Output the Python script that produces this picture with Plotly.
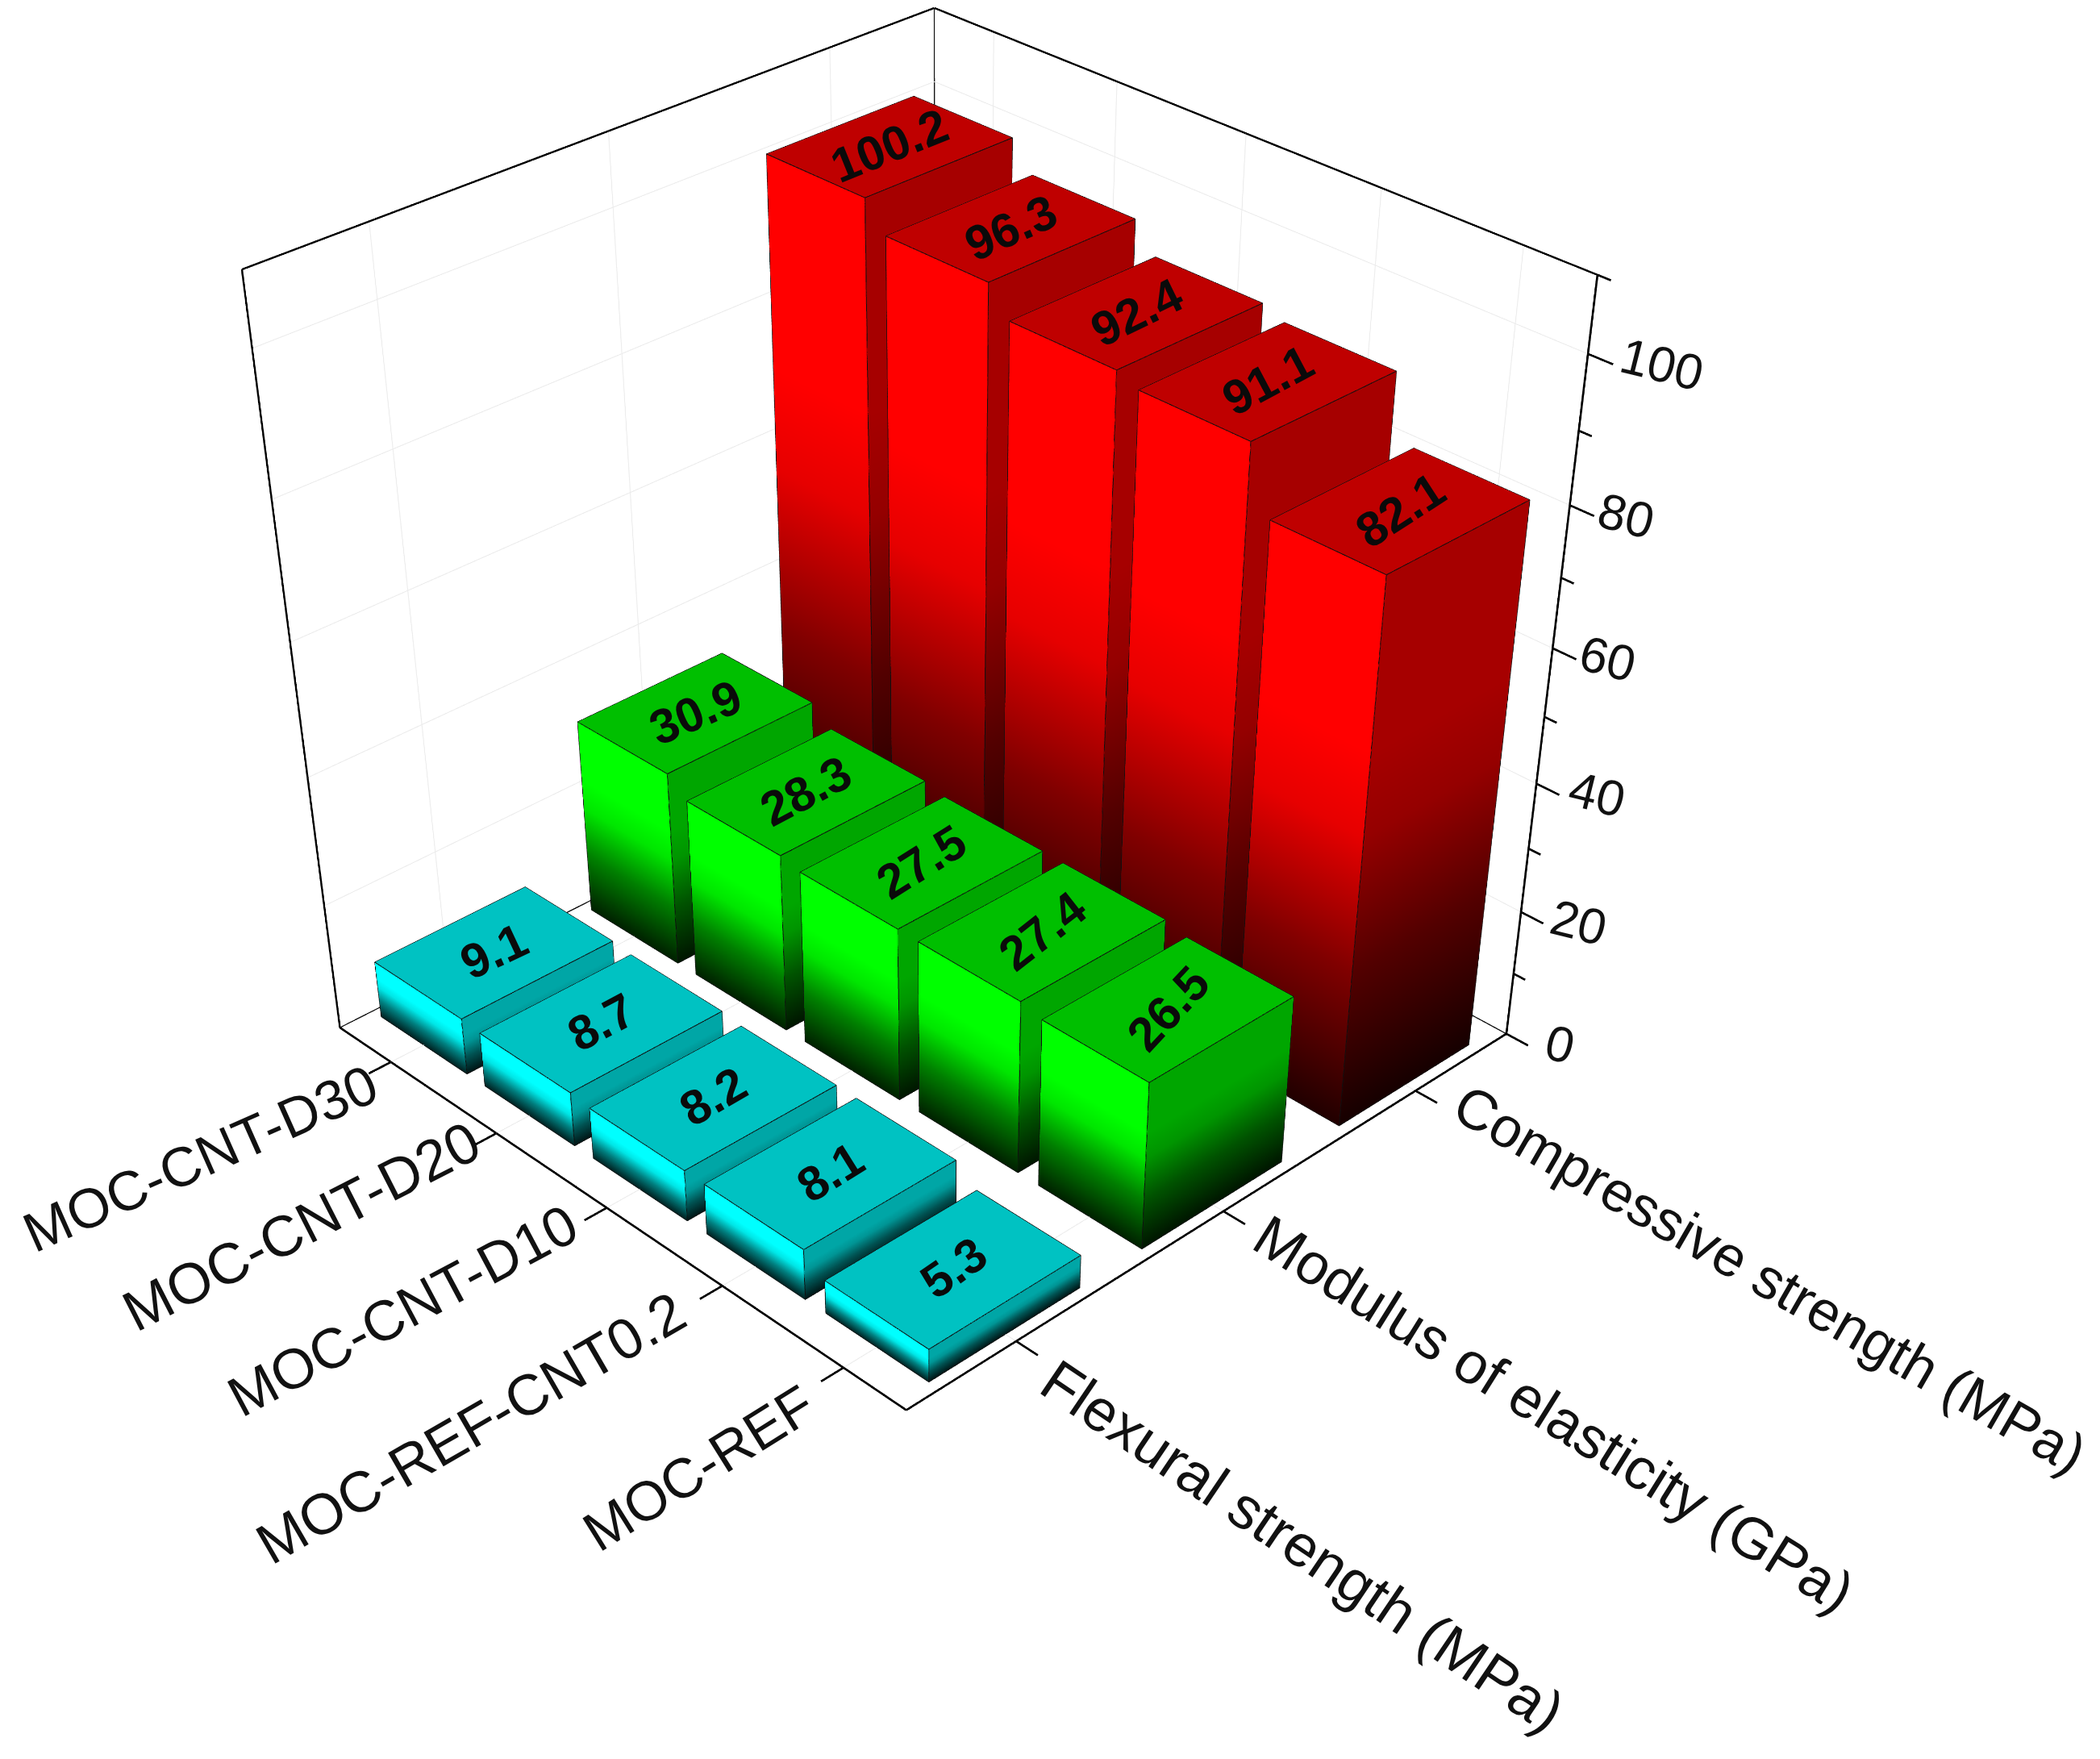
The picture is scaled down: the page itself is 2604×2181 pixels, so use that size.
import plotly.graph_objects as go

categories = ["MOC-CNT-D30", "MOC-CNT-D20", "MOC-CNT-D10", "MOC-REF-CNT0.2", "MOC-REF"]
series = ["Flexural strength (MPa)", "Modulus of elasticity (GPa)", "Compressive strength (MPa)"]
flexural = [9.1, 8.7, 8.2, 8.1, 5.3]
modulus = [30.9, 28.3, 27.5, 27.4, 26.5]
compressive = [100.2, 96.3, 92.4, 91.1, 82.1]
z_ticks = [0, 20, 40, 60, 80, 100]
z_minor = [10, 30, 50, 70, 90, 110]

X0, X1, Y0, Y1, Z0, Z1 = -0.5, 4.5, -0.5, 2.5, 0, 110
# taller than the window: plotly's fov is fixed, so this is what weakens the perspective
W, H = 2596, 4000
PX = 1172
EYE = (2.9586, -2.8317, 2.3670)
CENTER = (0.4430, -0.3900, -0.9706)
BOX = (1.0410, 1.0531, 1.0)
PAD_X, PAD_Y, PAD_Z = 1.4, 5/3, 1.4

fig = go.Figure()


def shade(rgb, k):
    return "rgb(%d,%d,%d)" % tuple(int(round(c*k)) for c in rgb)


stops = [(0, 0.13), (0.3, 0.5), (0.55, 0.9), (0.7, 1.0), (1, 1.0)]


def add_bars(vals, yi, rgb, top_k, right_k):
    vx, vy, vz, vc, ii, jj, kk = [], [], [], [], [], [], []
    ex, ey, ez = [], [], []

    def quad(a, b, c, d, ca, cb, cc, cd):
        n = len(vx)
        for q, col in zip((a, b, c, d), (ca, cb, cc, cd)):
            vx.append(q[0]); vy.append(q[1]); vz.append(q[2]); vc.append(col)
        ii.extend([n, n]); jj.extend([n+1, n+2]); kk.extend([n+2, n+3])

    bw_x, bw_y = 0.83, 0.70
    for xi, v in enumerate(vals):
        x0, x1 = xi-bw_x/2, xi+bw_x/2
        y0, y1 = yi-bw_y/2, yi+bw_y/2
        quad((x0, y0, v), (x1, y0, v), (x1, y1, v), (x0, y1, v), *[shade(rgb, top_k)]*4)
        for (t0, k0), (t1, k1) in zip(stops[:-1], stops[1:]):
            quad((x0, y0, t0*v), (x1, y0, t0*v), (x1, y0, t1*v), (x0, y0, t1*v),
                 shade(rgb, k0), shade(rgb, k0), shade(rgb, k1), shade(rgb, k1))
            quad((x1, y0, t0*v), (x1, y1, t0*v), (x1, y1, t1*v), (x1, y0, t1*v),
                 shade(rgb, k0*right_k), shade(rgb, k0*right_k), shade(rgb, k1*right_k), shade(rgb, k1*right_k))
        path = [(x0, y0, v), (x1, y0, v), (x1, y1, v), (x0, y1, v), (x0, y0, v), (x0, y0, 0), (x1, y0, 0), (x1, y1, 0), (x1, y1, v)]
        for q in path:
            ex.append(q[0]); ey.append(q[1]); ez.append(q[2])
        ex.append(None); ey.append(None); ez.append(None)
        for q in [(x1, y0, v), (x1, y0, 0)]:
            ex.append(q[0]); ey.append(q[1]); ez.append(q[2])
        ex.append(None); ey.append(None); ez.append(None)
    fig.add_trace(go.Mesh3d(x=vx, y=vy, z=vz, i=ii, j=jj, k=kk, vertexcolor=vc, flatshading=True,
                            lighting=dict(ambient=1, diffuse=0, specular=0, roughness=1, fresnel=0),
                            hoverinfo="skip", showscale=False))
    fig.add_trace(go.Scatter3d(x=ex, y=ey, z=ez, mode="lines", line=dict(color="#101010", width=2),
                               hoverinfo="skip", showlegend=False))


add_bars(flexural, 0, (0, 255, 255), 0.76, 0.65)
add_bars(modulus, 1, (0, 255, 0), 0.75, 0.65)
add_bars(compressive, 2, (255, 0, 0), 0.75, 0.65)


def lines(segs, color, width):
    xs, ys, zs = [], [], []
    for a, b in segs:
        xs += [a[0], b[0], None]; ys += [a[1], b[1], None]; zs += [a[2], b[2], None]
    fig.add_trace(go.Scatter3d(x=xs, y=ys, z=zs, mode="lines", line=dict(color=color, width=width),
                               hoverinfo="skip", showlegend=False))


# grid on walls and floor
grid = []
for x in range(len(categories)):
    grid += [((x, Y0, Z0), (x, Y1, Z0)), ((x, Y1, Z0), (x, Y1, Z1))]
for y in range(len(series)):
    grid += [((X0, y, Z0), (X1, y, Z0)), ((X0, y, Z0), (X0, y, Z1))]
for z in z_ticks[1:]:
    grid += [((X0, Y0, z), (X0, Y1, z)), ((X0, Y1, z), (X1, Y1, z))]
lines(grid, "#ececec", 2)

# frame
lines([((X0, Y0, Z0), (X0, Y1, Z0)), ((X0, Y1, Z0), (X1, Y1, Z0)), ((X0, Y1, Z0), (X0, Y1, Z1))], "#111111", 2.5)
lines([((X0, Y0, Z0), (X0, Y0, Z1)), ((X0, Y0, Z1), (X0, Y1, Z1)), ((X0, Y1, Z1), (X1, Y1, Z1))], "#000000", 4.5)
axis = [((X0, Y0, Z0), (X1, Y0, Z0)), ((X1, Y0, Z0), (X1, Y1, Z0)), ((X1, Y1, Z0), (X1, Y1, Z1))]
for x in range(len(categories)):
    axis.append(((x, Y0, 0), (x, Y0-0.1, 0)))
for y in range(len(series)):
    axis.append(((X1, y, 0), (X1+0.17, y, 0)))
for z in z_ticks:
    axis.append(((X1, Y1, z), (X1+0.17, Y1, z)))
for z in z_minor:
    axis.append(((X1, Y1, z), (X1+0.09, Y1, z)))
lines(axis, "#000000", 5)

# labels are annotations since 3d axis tick labels can't be rotated
ann = []
cat_shift = [(-236, -120), (-242, -115), (-253, -127), (-312, -176), (-179, -125)]
cat_angle = [-24, -27, -28, -30, -32]
cat_size = [69, 71, 70, 71, 69]
for x, name in enumerate(categories):
    ann.append(dict(x=x, y=Y0, z=0, text=name, textangle=cat_angle[x], showarrow=False,
                    font=dict(family="Liberation Sans", size=cat_size[x], color="#111111"),
                    xanchor="center", yanchor="middle", xshift=cat_shift[x][0], yshift=cat_shift[x][1]))
ser_shift = [(355, -254), (410, -251), (439, -234)]
ser_angle = [34, 32, 30]
ser_size = [73, 72, 70]
for y, name in enumerate(series):
    ann.append(dict(x=X1, y=y, z=0, text=name, textangle=ser_angle[y], showarrow=False,
                    font=dict(family="Liberation Sans", size=ser_size[y], color="#111111"),
                    xanchor="center", yanchor="middle", xshift=ser_shift[y][0], yshift=ser_shift[y][1]))
z_shift = [66, 71, 75, 68, 70, 91]
for i, z in enumerate(z_ticks):
    ann.append(dict(x=X1, y=Y1, z=z, text=str(z), textangle=14, showarrow=False,
                    font=dict(family="Liberation Sans", size=62, color="#111111"),
                    xanchor="center", yanchor="middle", xshift=z_shift[i], yshift=-13))
angs = {0: [-25, -28, -30, -32, -35], 1: [-23, -28, -32, -38, -47], 2: [-22, -24, -26, -28, -33]}
for yi, vals in enumerate([flexural, modulus, compressive]):
    for xi, v in enumerate(vals):
        ann.append(dict(x=xi, y=yi, z=v, text="<b>%s</b>" % v, textangle=angs[yi][xi], showarrow=False,
                        font=dict(family="Liberation Sans", size=60, color="#0a0a0a"),
                        xanchor="center", yanchor="middle"))


def hidden(lo, hi):
    return dict(range=[lo, hi], autorange=False, visible=False)


fig.update_layout(
    width=W, height=H, margin=dict(l=0, r=0, t=0, b=0), paper_bgcolor="white", showlegend=False,
    scene=dict(
        domain=dict(x=[0, 2*(PX-8)/W], y=[0, 1]),
        xaxis=hidden(X0-1, X1+1), yaxis=hidden(Y0-1, Y1+1), zaxis=hidden(Z0-22, Z1+22),
        aspectmode="manual",
        aspectratio=dict(x=BOX[0]*PAD_X, y=BOX[1]*PAD_Y, z=BOX[2]*PAD_Z),
        camera=dict(eye=dict(x=EYE[0], y=EYE[1], z=EYE[2]),
                    center=dict(x=CENTER[0], y=CENTER[1], z=CENTER[2]),
                    up=dict(x=0, y=0, z=1), projection=dict(type="perspective")),
        annotations=ann,
        bgcolor="white",
    ),
)
fig.write_html("out.html")
